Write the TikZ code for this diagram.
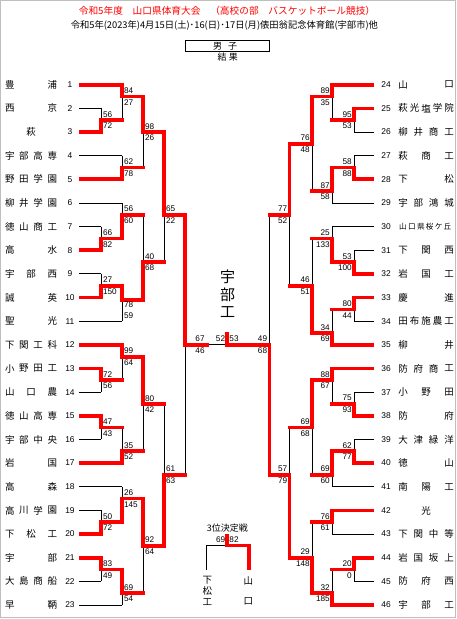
\documentclass[tikz,border=0pt]{standalone}
\usepackage{fontspec}
\setmainfont{Liberation Sans}
\newfontfamily\jp{Noto Sans CJK JP}
\definecolor{xred}{HTML}{FF0000}
\newif\ifredpass
\tikzset{
 bk/.style={draw=black,line width=0.9pt},
 rd/.style={draw=xred,line width=3.7pt,line cap=rect,line join=miter},
 sc/.style={font=\fontsize{8.2}{9}\selectfont,inner sep=0pt},
 nm/.style={font=\jp\fontsize{9.5}{10}\selectfont,inner sep=0pt},
 nms/.style={font=\jp\fontsize{7.6}{8}\selectfont,inner sep=0pt},
 num/.style={font=\fontsize{8.4}{9}\selectfont,inner sep=0pt},
 big/.style={font=\jp\fontsize{15}{16}\selectfont,inner sep=0pt},
}
% junction: x, top, bottom, out, next x, winner k
\newcommand{\Jn}[6]{\ifredpass\draw[rd] (#1,#6)--(#1,#4)--(#5,#4);\else\draw[bk] (#1,#2)--(#1,#3);\fi}
% team lines: k, end x, r/b
\newcommand{\TL}[3]{\ifredpass\if#3r\draw[rd] (80.8,#1)--(#2,#1);\fi\else\if#3b\draw[bk] (79,#1)--(#2,#1);\fi\fi}
\newcommand{\TR}[3]{\ifredpass\if#3r\draw[rd] (372.2,#1)--(#2,#1);\fi\else\if#3b\draw[bk] (374,#1)--(#2,#1);\fi\fi}
% scores
\newcommand{\SL}[4]{\node[sc,anchor=west] at ([xshift=1.8pt,yshift=5.8pt]#1,#2) {#3};\node[sc,anchor=west] at ([xshift=1.8pt,yshift=-5.8pt]#1,#2) {#4};}
\newcommand{\SR}[4]{\node[sc,anchor=east] at ([xshift=-2pt,yshift=5.8pt]#1,#2) {#3};\node[sc,anchor=east] at ([xshift=-2pt,yshift=-5.8pt]#1,#2) {#4};}
% names: [style] L, R, k, n, list
\newcommand{\Nm}[6][nm]{\foreach \c [count=\i] in {#6} {\node[#1] at ({#2+(#3-#2)*ifthenelse(#5==1,0.5,(\i-1)/max(#5-1,1))},#4) {\c};}}
\newcommand{\NL}[4]{\Nm{9.8}{52.3}{#1}{#3}{#4}\node[num] at (70,#1) {#2};}
\newcommand{\NR}[4]{\Nm{403}{449}{#1}{#3}{#4}\node[num] at (386,#1) {#2};}
\newcommand{\alllines}{%
 \TL{0}{122}{r}\TL{2}{101}{b}\TL{4}{101}{r}\TL{6}{122}{b}\TL{8}{122}{r}
 \TL{10}{122}{b}\TL{12}{101}{b}\TL{14}{101}{r}\TL{16}{101}{b}\TL{18}{101}{r}
 \TL{20}{122}{b}\TL{22}{122}{r}\TL{24}{101}{r}\TL{26}{101}{b}\TL{28}{101}{r}
 \TL{30}{101}{b}\TL{32}{122}{r}\TL{34}{122}{b}\TL{36}{101}{b}\TL{38}{101}{r}
 \TL{40}{101}{r}\TL{42}{101}{b}\TL{44}{122}{b}
 \TR{0}{332}{r}\TR{2}{354}{r}\TR{4}{354}{b}\TR{6}{354}{b}\TR{8}{354}{r}
 \TR{10}{332}{b}\TR{12}{332}{b}\TR{14}{354}{b}\TR{16}{354}{r}\TR{18}{354}{r}
 \TR{20}{354}{b}\TR{22}{332}{r}\TR{24}{332}{r}\TR{26}{354}{b}\TR{28}{354}{r}
 \TR{30}{354}{b}\TR{32}{354}{r}\TR{34}{332}{b}\TR{36}{332}{r}\TR{38}{332}{b}
 \TR{40}{354}{r}\TR{42}{354}{b}\TR{44}{332}{r}
 \Jn{101}{2}{4}{3}{122}{4}
 \Jn{122}{0}{3}{1}{143}{0}
 \Jn{122}{6}{8}{7}{143}{8}
 \Jn{143}{1}{7}{4}{164}{1}
 \Jn{101}{12}{14}{13}{122}{14}
 \Jn{122}{10}{13}{11}{143}{13}
 \Jn{101}{16}{18}{17}{122}{18}
 \Jn{122}{17}{20}{18.2}{143}{17}
 \Jn{143}{11}{18.2}{15}{164}{18.2}
 \Jn{164}{4}{15}{11}{185}{4}
 \Jn{101}{24}{26}{25}{122}{24}
 \Jn{122}{22}{25}{23}{143}{22}
 \Jn{101}{28}{30}{29}{122}{28}
 \Jn{122}{29}{32}{31}{143}{32}
 \Jn{143}{23}{31}{27}{164}{23}
 \Jn{101}{36}{38}{37}{122}{38}
 \Jn{122}{34}{37}{35}{143}{37}
 \Jn{101}{40}{42}{41}{122}{40}
 \Jn{122}{41}{44}{43}{143}{41}
 \Jn{143}{35}{43}{39}{164}{35}
 \Jn{164}{27}{39}{33}{185}{39}
 \Jn{185}{11}{33}{22}{207}{11}
 \Jn{354}{2}{4}{3}{332}{2}
 \Jn{332}{0}{3}{1}{312}{0}
 \Jn{354}{6}{8}{7}{332}{8}
 \Jn{332}{7}{10}{9}{312}{7}
 \Jn{312}{1}{9}{5}{289.5}{1}
 \Jn{354}{14}{16}{15}{332}{16}
 \Jn{332}{12}{15}{13}{312}{15}
 \Jn{354}{18}{20}{19}{332}{18}
 \Jn{332}{19}{22}{21}{312}{22}
 \Jn{312}{13}{21}{17}{289.5}{21}
 \Jn{289.5}{5}{17}{11}{269.5}{5}
 \Jn{332}{24}{27}{25}{312}{24}
 \Jn{354}{26}{28}{27}{332}{28}
 \Jn{354}{30}{32}{31}{332}{32}
 \Jn{332}{31}{34}{33}{312}{31}
 \Jn{312}{25}{33}{29}{289.5}{25}
 \Jn{332}{36}{38}{37}{312}{36}
 \Jn{354}{40}{42}{41}{332}{40}
 \Jn{332}{41}{44}{43}{312}{44}
 \Jn{312}{37}{43}{40}{289.5}{43}
 \Jn{289.5}{29}{40}{33}{269.5}{40}
 \Jn{269.5}{11}{33}{22}{227}{33}
 \ifredpass\draw[rd] (227,21.05)--(227,22);\else\draw[bk] (207,22)--(227,22);\fi
}
\begin{document}
\begin{tikzpicture}[x=1pt,y=-1pt]
\useasboundingbox (0,0) rectangle (456,619);
\draw[gray!50,line width=1.4pt] (0.7,0.7) rectangle (455.3,617.7);
\node[font=\jp\fontsize{9.7}{10}\selectfont,text=xred,inner sep=0pt] (title) at (227,10.5) {令和5年度　山口県体育大会　（高校の部　バスケットボール競技）};
\node[font=\jp\fontsize{9.3}{10}\selectfont,inner sep=0pt] (sub) at (224.4,25.7) {令和5年(2023年)4月15日(土)･16(日)･17日(月)俵田翁記念体育館(宇部市)他};
\draw[line width=0.9pt] (185.7,40.7) rectangle (269.3,51.7);
\node[nm,font=\jp\fontsize{9}{10}\selectfont] (dan) at (217.5,46) {男};
\node[nm,font=\jp\fontsize{9}{10}\selectfont] (shi) at (232.5,46) {子};
\node[nm,font=\jp\fontsize{9}{10}\selectfont] (ke) at (222,57.3) {結};
\node[nm,font=\jp\fontsize{9}{10}\selectfont] (ka) at (233.3,57.3) {果};
\node[big] (w1) at (227.7,277) {宇};
\node[big] (w2) at (227.7,294.5) {部};
\node[big] (w3) at (227.7,312) {工};
% final scores
\node[sc] (f67) at (200,339) {67};
\node[sc] (f46) at (200,351) {46};
\node[sc] (f52) at (220.5,339) {52};
\node[sc] (f53) at (234,339) {53};
\node[sc] (f49) at (262.5,339) {49};
\node[sc] (f68) at (262.5,351) {68};
% third place
\node[nm,font=\jp\fontsize{9}{10}\selectfont] (third) at (227.3,528.3) {3位決定戦};
\draw[bk] (227.3,545.5) -- (206,545.5) -- (206,570);
\draw[rd] (227.3,535.8) -- (227.3,545.5) -- (249.3,545.5) -- (249.3,568.2);
\node[sc] (t69) at (220.7,540) {69};
\node[sc] (t82) at (234,540) {82};
\node[nm] (k1) at (207.3,580.7) {下};
\node[nm] (k2) at (207.3,591.2) {松};
\node[nm] (k3) at (207.3,601.7) {工};
\node[nm] (y1) at (248.3,580.7) {山};
\node[nm] (y2) at (248.3,601.7) {口};
\begin{scope}[shift={(0,84.7)},y=-11.825pt]
 \redpassfalse\alllines
 \redpasstrue\alllines
 % left scores
 \SL{101}{3}{56}{72}
 \SL{122}{1}{84}{27}
 \SL{122}{7}{62}{78}
 \SL{143}{4}{98}{26}
 \SL{101}{13}{66}{82}
 \SL{122}{11}{56}{60}
 \SL{101}{17}{27}{150}
 \node[sc,anchor=west] at ([yshift=-4.5pt]123.8,18.2) {78};
 \node[sc,anchor=west] at ([yshift=-16pt]123.8,18.2) {59};
 \SL{143}{15}{40}{68}
 \SL{164}{11}{65}{22}
 \SL{101}{25}{72}{56}
 \SL{122}{23}{99}{64}
 \SL{101}{29}{47}{43}
 \SL{122}{31}{35}{52}
 \SL{143}{27}{80}{42}
 \SL{101}{37}{50}{72}
 \SL{122}{35}{26}{145}
 \SL{101}{41}{83}{49}
 \SL{122}{43}{69}{54}
 \SL{143}{39}{92}{64}
 \SL{164}{33}{61}{63}
 % right scores
 \SR{354}{3}{95}{53}
 \SR{332}{1}{89}{35}
 \SR{354}{7}{58}{88}
 \SR{332}{9}{87}{58}
 \SR{312}{5}{76}{48}
 \SR{354}{15}{53}{100}
 \SR{332}{13}{25}{133}
 \SR{354}{19}{80}{44}
 \SR{332}{21}{34}{69}
 \SR{312}{17}{46}{51}
 \SR{289.5}{11}{77}{52}
 \SR{332}{25}{88}{67}
 \SR{354}{27}{75}{93}
 \SR{354}{31}{62}{77}
 \SR{332}{33}{69}{60}
 \SR{312}{29}{69}{68}
 \SR{332}{37}{76}{61}
 \SR{354}{41}{20}{0}
 \SR{332}{43}{32}{185}
 \SR{312}{40}{29}{148}
 \SR{289.5}{33}{57}{79}
 % left names
 \NL{0}{1}{2}{豊,浦}
 \NL{2}{2}{2}{西,京}
 \NL{4}{3}{1}{萩}
 \NL{6}{4}{4}{宇,部,高,専}
 \NL{8}{5}{4}{野,田,学,園}
 \NL{10}{6}{4}{柳,井,学,園}
 \NL{12}{7}{4}{徳,山,商,工}
 \NL{14}{8}{2}{高,水}
 \NL{16}{9}{3}{宇,部,西}
 \NL{18}{10}{2}{誠,英}
 \NL{20}{11}{2}{聖,光}
 \NL{22}{12}{4}{下,関,工,科}
 \NL{24}{13}{4}{小,野,田,工}
 \NL{26}{14}{3}{山,口,農}
 \NL{28}{15}{4}{徳,山,高,専}
 \NL{30}{16}{4}{宇,部,中,央}
 \NL{32}{17}{2}{岩,国}
 \NL{34}{18}{2}{高,森}
 \NL{36}{19}{4}{高,川,学,園}
 \NL{38}{20}{3}{下,松,工}
 \NL{40}{21}{2}{宇,部}
 \NL{42}{22}{4}{大,島,商,船}
 \NL{44}{23}{2}{早,鞆}
 % right names
 \NR{0}{24}{2}{山,口}
 \NR{2}{25}{5}{萩,光,塩,学,院}
 \NR{4}{26}{4}{柳,井,商,工}
 \NR{6}{27}{3}{萩,商,工}
 \NR{8}{28}{2}{下,松}
 \NR{10}{29}{4}{宇,部,鴻,城}
 \Nm[nms]{403}{447.5}{12}{6}{山,口,県,桜,ケ,丘}\node[num] at (386,12) {30};
 \NR{14}{31}{3}{下,関,西}
 \NR{16}{32}{3}{岩,国,工}
 \NR{18}{33}{2}{慶,進}
 \NR{20}{34}{5}{田,布,施,農,工}
 \NR{22}{35}{2}{柳,井}
 \NR{24}{36}{4}{防,府,商,工}
 \NR{26}{37}{3}{小,野,田}
 \NR{28}{38}{2}{防,府}
 \NR{30}{39}{4}{大,津,緑,洋}
 \NR{32}{40}{2}{徳,山}
 \NR{34}{41}{3}{南,陽,工}
 \NR{36}{42}{1}{光}
 \NR{38}{43}{4}{下,関,中,等}
 \NR{40}{44}{4}{岩,国,坂,上}
 \NR{42}{45}{3}{防,府,西}
 \NR{44}{46}{3}{宇,部,工}
\end{scope}
\end{tikzpicture}
\end{document}
